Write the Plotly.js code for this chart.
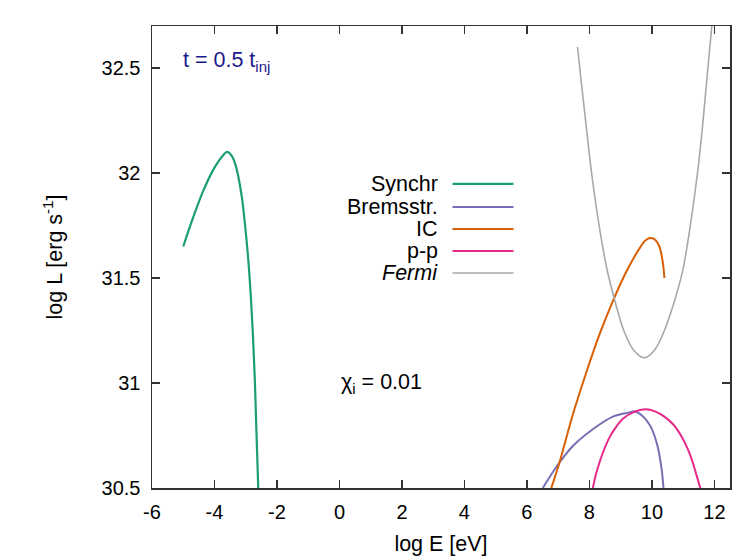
<!DOCTYPE html>
<html>
<head>
<meta charset="utf-8">
<script src="https://cdn.plot.ly/plotly-3.0.1.min.js"></script>
<style>html,body{margin:0;padding:0;background:#fff;}#chart{width:732px;height:560px;}</style>
</head>
<body>
<div id="chart"></div>
<script>
// Data (log E [eV], log L [erg/s])
const synchrX = [-5.00, -4.68, -4.36, -4.04, -3.85, -3.72, -3.61, -3.52, -3.42, -3.32, -3.22, -3.12, -3.02, -2.92, -2.84, -2.77, -2.71, -2.66, -2.62, -2.60];
const synchrY = [31.65, 31.79, 31.915, 32.015, 32.06, 32.085, 32.10, 32.095, 32.075, 32.035, 31.97, 31.88, 31.75, 31.59, 31.42, 31.23, 31.02, 30.78, 30.60, 30.50];

const bremsX = [6.51, 6.94, 7.47, 8.11, 8.75, 9.28, 9.42, 9.56, 9.70, 9.84, 9.97, 10.08, 10.18, 10.26, 10.32, 10.37];
const bremsY = [30.50, 30.60, 30.70, 30.78, 30.84, 30.86, 30.865, 30.858, 30.843, 30.82, 30.79, 30.75, 30.70, 30.64, 30.58, 30.50];

const icX = [6.78, 7.04, 7.47, 7.90, 8.32, 8.75, 9.18, 9.60, 9.80, 9.97, 10.12, 10.24, 10.32, 10.37, 10.40];
const icY = [30.50, 30.62, 30.85, 31.05, 31.23, 31.39, 31.53, 31.64, 31.68, 31.69, 31.68, 31.65, 31.60, 31.55, 31.50];

const ppX = [8.11, 8.20, 8.32, 8.45, 8.64, 8.85, 9.07, 9.40, 9.81, 10.10, 10.40, 10.70, 10.95, 11.15, 11.30, 11.43, 11.55];
const ppY = [30.50, 30.56, 30.62, 30.675, 30.74, 30.79, 30.83, 30.86, 30.875, 30.865, 30.84, 30.80, 30.745, 30.685, 30.625, 30.56, 30.50];

const fermiX = [7.62, 7.75, 7.90, 8.07, 8.30, 8.55, 8.80, 9.10, 9.40, 9.76, 10.10, 10.40, 10.70, 10.98, 11.22, 11.46, 11.62, 11.78, 11.95, 12.05];
const fermiY = [32.60, 32.42, 32.22, 32.00, 31.76, 31.55, 31.40, 31.25, 31.16, 31.12, 31.16, 31.25, 31.38, 31.53, 31.74, 32.00, 32.22, 32.48, 32.75, 32.90];

const seriesNames = ["Synchr", "Bremsstr.", "IC", "p-p", "<i>Fermi</i>"];
const colors = ["#1b9e77", "#7570b3", "#d95f02", "#e7298a", "#a8a8a8"];
const widths = [2.2, 2, 2, 2, 1.6];

const xTicks = [-6, -4, -2, 0, 2, 4, 6, 8, 10, 12];
const yTicks = [30.5, 31, 31.5, 32, 32.5];
const yTickText = ["30.5", "31", "31.5", "32", "32.5"];

const xs = [synchrX, bremsX, icX, ppX, fermiX];
const ys = [synchrY, bremsY, icY, ppY, fermiY];

const traces = xs.map((x, i) => ({
  x: x, y: ys[i], type: "scatter", mode: "lines",
  line: {color: colors[i], width: widths[i], shape: "spline", smoothing: 1},
  showlegend: false, name: seriesNames[i], hoverinfo: "skip"
}));

// custom legend (text left, sample line right)
const legTextX = 3.21, legLineX0 = 3.62, legLineX1 = 5.57;
const legRowY = [31.948, 31.838, 31.733, 31.629, 31.524];
const shapes = legRowY.map((yy, i) => ({
  type: "line", xref: "x", yref: "y", x0: legLineX0, x1: legLineX1, y0: yy, y1: yy,
  line: {color: colors[i], width: widths[i]}
}));
const fam = "Liberation Sans, Arial, sans-serif";
const bigFont = {family: fam, size: 21.5, color: "#000"};
const annotations = legRowY.map((yy, i) => ({
  xref: "x", yref: "y", x: legTextX, y: yy, text: seriesNames[i], showarrow: false,
  xanchor: "right", yanchor: "middle", font: bigFont
}));
annotations.push({
  xref: "x", yref: "y", x: -5.07, y: 32.53, text: "t = 0.5 t<sub>inj</sub>", showarrow: false,
  xanchor: "left", yanchor: "middle", font: {family: fam, size: 21.5, color: "#1a1a8c"}
});
annotations.push({
  xref: "x", yref: "y", x: -0.03, y: 31.0, text: "χ<sub>i</sub> = 0.01", showarrow: false,
  xanchor: "left", yanchor: "middle", font: bigFont
});

const tickFont = {family: fam, size: 20, color: "#000"};
const titleFont = {family: fam, size: 21.5, color: "#000"};

const layout = {
  width: 732, height: 560,
  margin: {l: 152, r: 2, t: 26, b: 72},
  paper_bgcolor: "#fff", plot_bgcolor: "#fff",
  font: tickFont,
  showlegend: false,
  xaxis: {
    range: [-6, 12.5], tickvals: xTicks, ticktext: xTicks.map(String),
    ticks: "inside", ticklen: 8, tickwidth: 1.3, tickcolor: "#333",
    showline: true, linecolor: "#333", linewidth: 1.5, mirror: "ticks",
    showgrid: false, zeroline: false, ticklabelstandoff: 5, tickfont: tickFont,
    title: {text: "log E [eV]", font: titleFont, standoff: 14}
  },
  yaxis: {
    range: [30.5, 32.7], tickvals: yTicks, ticktext: yTickText,
    ticks: "inside", ticklen: 8, tickwidth: 1.3, tickcolor: "#333",
    showline: true, linecolor: "#333", linewidth: 1.5, mirror: "ticks",
    showgrid: false, zeroline: false, ticklabelstandoff: 6, tickfont: tickFont,
    title: {text: "log L [erg s<sup>-1</sup>]", font: titleFont, standoff: 33}
  },
  shapes: shapes,
  annotations: annotations
};

Plotly.newPlot("chart", traces, layout, {staticPlot: true, displayModeBar: false});
</script>
</body>
</html>
